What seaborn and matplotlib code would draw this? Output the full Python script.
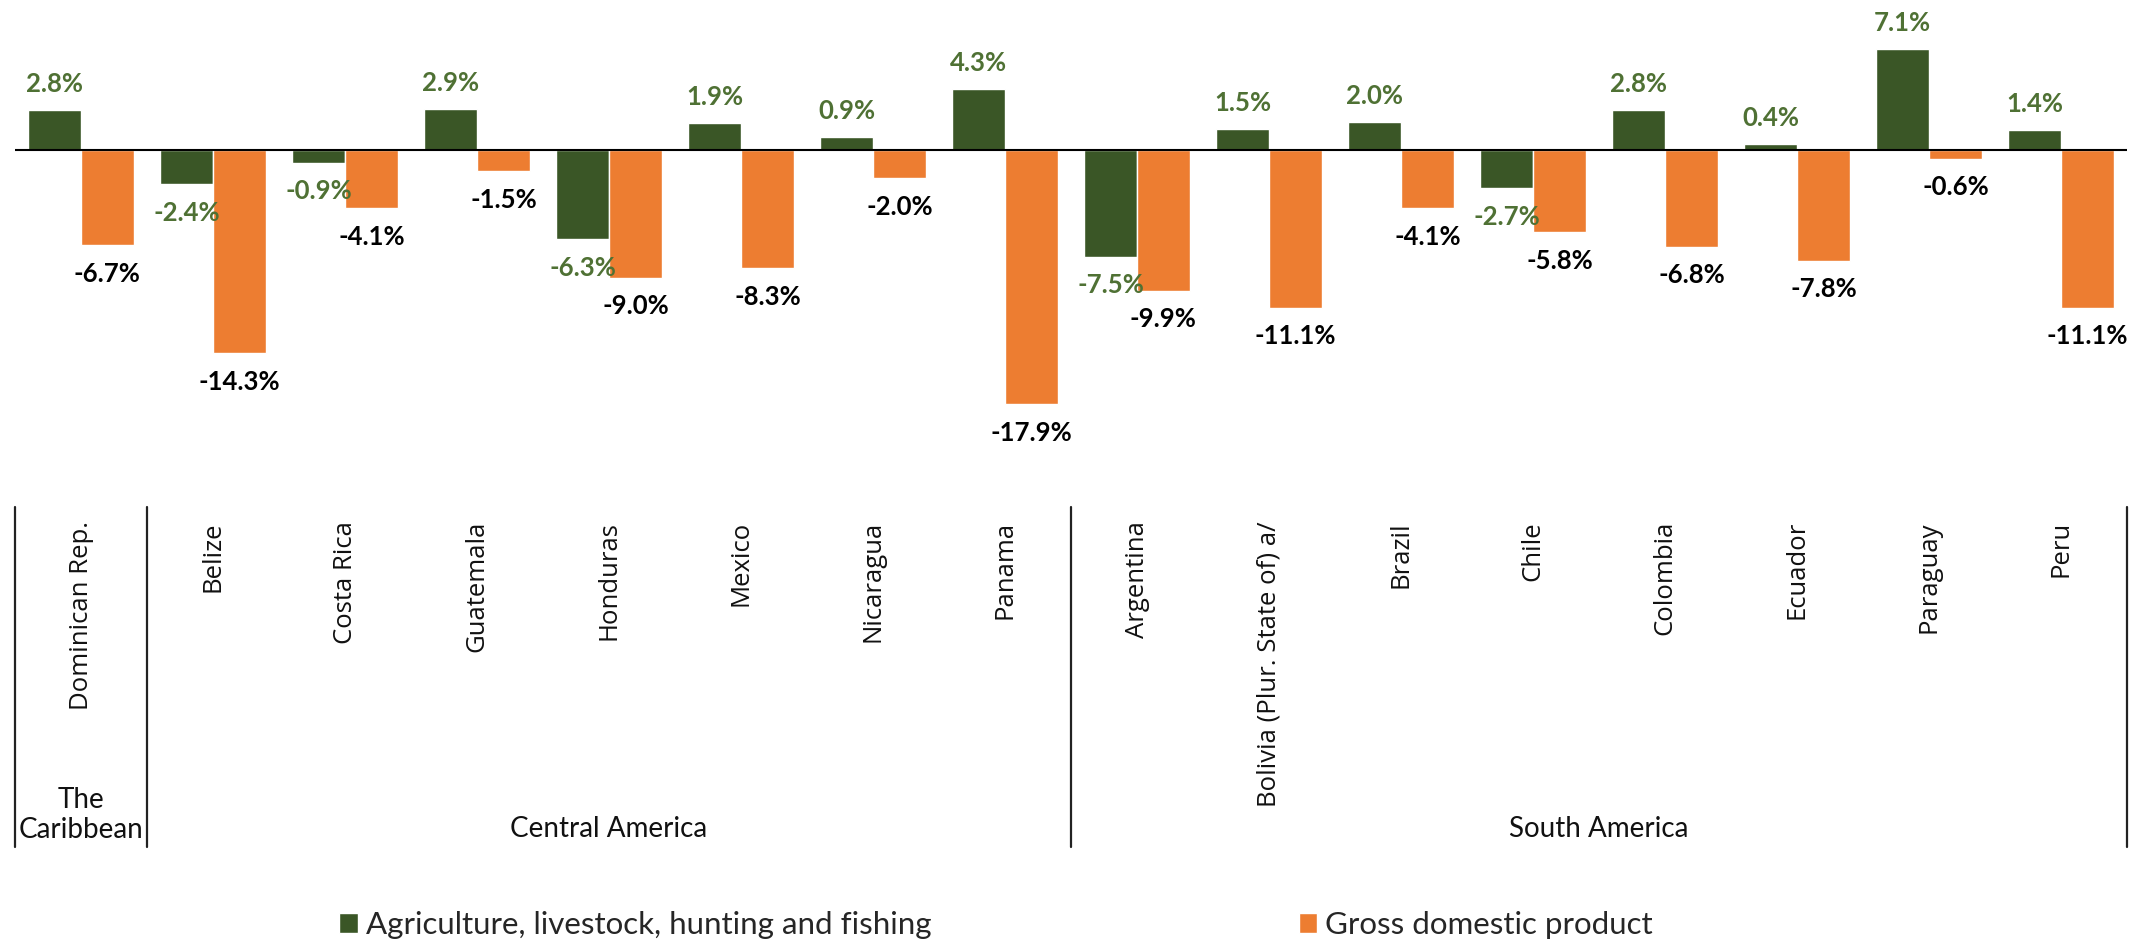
import pandas as pd
import seaborn as sns
import matplotlib.pyplot as plt
import matplotlib.transforms as mtransforms

countries = ["Dominican Rep.", "Belize", "Costa Rica", "Guatemala", "Honduras", "Mexico",
             "Nicaragua", "Panama", "Argentina", "Bolivia (Plur. State of) a/", "Brazil",
             "Chile", "Colombia", "Ecuador", "Paraguay", "Peru"]
agri = [2.8, -2.4, -0.9, 2.9, -6.3, 1.9, 0.9, 4.3, -7.5, 1.5, 2.0, -2.7, 2.8, 0.4, 7.1, 1.4]
gdp = [-6.7, -14.3, -4.1, -1.5, -9.0, -8.3, -2.0, -17.9, -9.9, -11.1, -4.1, -5.8, -6.8, -7.8, -0.6, -11.1]
series = ["Agriculture, livestock, hunting and fishing", "Gross domestic product"]
regions = ["The\nCaribbean", "Central America", "South America"]
region_spans = [(0, 0), (1, 7), (8, 15)]

green = "#3a5626"
green_txt = "#4f7134"
orange = "#ed7d31"

df = pd.DataFrame({
    "country": countries * 2,
    "series": [series[0]] * len(countries) + [series[1]] * len(countries),
    "value": agri + gdp,
})

sns.set_style("white")
plt.rcParams["font.family"] = ["Lato", "DejaVu Sans"]

W, H = 2146, 941
fig = plt.figure(figsize=(W / 100, H / 100), dpi=100)
# zero line at 150 px from top, 14.2 px per percentage point
ax_top, ax_bot = 0, 460
scale = 14.2
ax = fig.add_axes([15 / W, 1 - ax_bot / H, 2112 / W, (ax_bot - ax_top) / H])

sns.barplot(data=df, x="country", y="value", hue="series", order=countries,
            hue_order=series, palette=[green, orange], saturation=1, width=0.8,
            ax=ax, legend=True)
ax.set_ylim(-(ax_bot - 150) / scale, (150 - ax_top) / scale)
ax.set_xlim(-0.5, len(countries) - 0.5)
ax.axhline(0, color="black", lw=1.5, zorder=3)
for s in ax.spines.values():
    s.set_visible(False)
ax.set_yticks([])
ax.set_xlabel("")
ax.set_ylabel("")

# data labels
for cont, vals, col in zip(ax.containers, [agri, gdp], [green_txt, "black"]):
    for bar, v in zip(cont, vals):
        x = bar.get_x() + bar.get_width() / 2
        if v >= 0:
            ax.annotate(f"{v:.1f}%", (x, v), xytext=(0, 13), textcoords="offset points",
                        ha="center", va="baseline", fontsize=18.5, fontweight="bold", color=col)
        else:
            ax.annotate(f"{v:.1f}%", (x, v), xytext=(0, -12), textcoords="offset points",
                        ha="center", va="top", fontsize=18.5, fontweight="bold", color=col)

# country labels
ax.set_xticks(range(len(countries)))
ax.set_xticklabels(countries, rotation=90, fontsize=18.5, family="Open Sans", color="#111111")
ax.tick_params(axis="x", length=0, pad=44)

# region labels and separators
tr = mtransforms.blended_transform_factory(ax.transData, fig.transFigure)
for xs in [-0.5, 0.5, 7.5, 15.5]:
    ax.plot([xs, xs], [1 - 507 / H, 1 - 847 / H], color="#222222", lw=1.6,
            transform=tr, clip_on=False)
for name, (a, b) in zip(regions, region_spans):
    ax.text((a + b) / 2, 1 - 815 / H if "\n" in name else 1 - 829 / H, name, transform=tr,
            ha="center", va="center", fontsize=20, color="#111111", linespacing=1.2)

sns.move_legend(ax, "center", bbox_to_anchor=(996 / W, 1 - 925 / H),
                bbox_transform=fig.transFigure, ncol=2, frameon=False, title=None,
                fontsize=22.5, handlelength=0.6, handleheight=0.6, handletextpad=0.25,
                columnspacing=11.75)

fig.savefig("out.png", dpi=100)
